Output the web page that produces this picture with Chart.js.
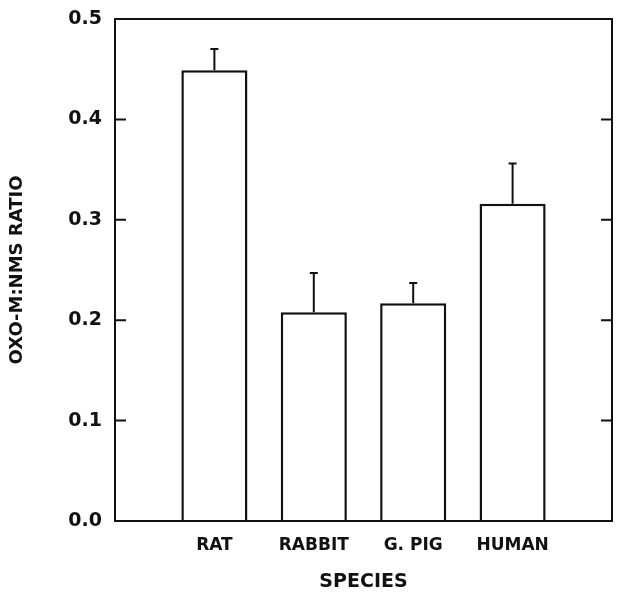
<!DOCTYPE html>
<html>
<head>
<meta charset="utf-8">
<script src="https://cdn.jsdelivr.net/npm/chart.js@4/dist/chart.umd.min.js"></script>
<style>
  html, body { margin: 0; padding: 0; background: #fff; }
  #wrap { width: 624px; height: 601px; }
</style>
</head>
<body>
<div id="wrap"><canvas id="ratioChart"></canvas></div>
<script>
// data
const species = ["RAT", "RABBIT", "G. PIG", "HUMAN"];
const ratio = [0.449, 0.208, 0.217, 0.316];
const ratioErr = [0.021, 0.039, 0.020, 0.040];
const yTicks = [0.0, 0.1, 0.2, 0.3, 0.4, 0.5];

// empty slot on each side so bars sit on positions 1..4 of 0..5
const labels = [""].concat(species, [""]);
const values = [null].concat(ratio, [null]);
const errors = [null].concat(ratioErr, [null]);

const ink = "#111";
const fontFam = "'DejaVu Sans', sans-serif";

// frame + inward ticks on both vertical sides
const framePlugin = {
  id: "frame",
  afterDraw(chart) {
    const { ctx, chartArea: a } = chart;
    const y = chart.scales.y;
    ctx.save();
    ctx.strokeStyle = ink;
    ctx.lineWidth = 2;
    ctx.strokeRect(a.left, a.top, a.right - a.left, a.bottom - a.top);
    yTicks.forEach((t) => {
      const py = y.getPixelForValue(t);
      ctx.beginPath();
      ctx.moveTo(a.left, py);
      ctx.lineTo(a.left + 11, py);
      ctx.moveTo(a.right, py);
      ctx.lineTo(a.right - 11, py);
      ctx.stroke();
    });
    ctx.restore();
  },
};

// upper error bars only
const errorPlugin = {
  id: "errbars",
  afterDatasetsDraw(chart) {
    const { ctx } = chart;
    const y = chart.scales.y;
    const meta = chart.getDatasetMeta(0);
    ctx.save();
    ctx.strokeStyle = ink;
    ctx.lineWidth = 2;
    meta.data.forEach((bar, i) => {
      if (values[i] == null) return;
      const top = y.getPixelForValue(values[i] + errors[i]);
      ctx.beginPath();
      ctx.moveTo(bar.x, bar.y);
      ctx.lineTo(bar.x, top);
      ctx.moveTo(bar.x - 4, top);
      ctx.lineTo(bar.x + 4, top);
      ctx.stroke();
    });
    ctx.restore();
  },
};

new Chart(document.getElementById("ratioChart"), {
  type: "bar",
  data: {
    labels: labels,
    datasets: [
      {
        data: values,
        backgroundColor: "#fff",
        borderColor: ink,
        borderWidth: 2.5,
        categoryPercentage: 1,
        barPercentage: 0.665,
      },
    ],
  },
  options: {
    responsive: true,
    maintainAspectRatio: false,
    animation: false,
    layout: { padding: { top: 19, right: 12, left: 0, bottom: 0 } },
    plugins: { legend: { display: false }, tooltip: { enabled: false } },
    scales: {
      x: {
        type: "category",
        offset: false,
        grid: { display: false, drawTicks: false, offset: false },
        border: { display: false },
        ticks: {
          color: ink,
          padding: 14,
          maxRotation: 0,
          autoSkip: false,
          font: { family: fontFam, size: 17, weight: "bold" },
        },
        title: {
          display: true,
          text: "SPECIES",
          color: ink,
          padding: { top: 0, bottom: 8 },
          font: { family: fontFam, size: 19, weight: "bold" },
        },
        afterFit(scale) {
          scale.height = 80;
          scale.paddingLeft = 0;
          scale.paddingRight = 0;
        },
      },
      y: {
        min: 0,
        max: 0.5,
        grid: { display: false, drawTicks: false },
        border: { display: false },
        afterBuildTicks(scale) {
          scale.ticks = yTicks.map((v) => ({ value: v }));
        },
        ticks: {
          color: ink,
          padding: 13,
          font: { family: fontFam, size: 19, weight: "bold" },
          callback: (v) => Number(v).toFixed(1),
        },
        title: {
          display: true,
          text: "OXO-M:NMS RATIO",
          color: ink,
          padding: { top: 7, bottom: 0 },
          font: { family: fontFam, size: 18, weight: "bold" },
        },
        afterFit(scale) {
          scale.width = 115;
          scale.paddingTop = 0;
          scale.paddingBottom = 0;
        },
      },
    },
  },
  plugins: [errorPlugin, framePlugin],
});
</script>
</body>
</html>
